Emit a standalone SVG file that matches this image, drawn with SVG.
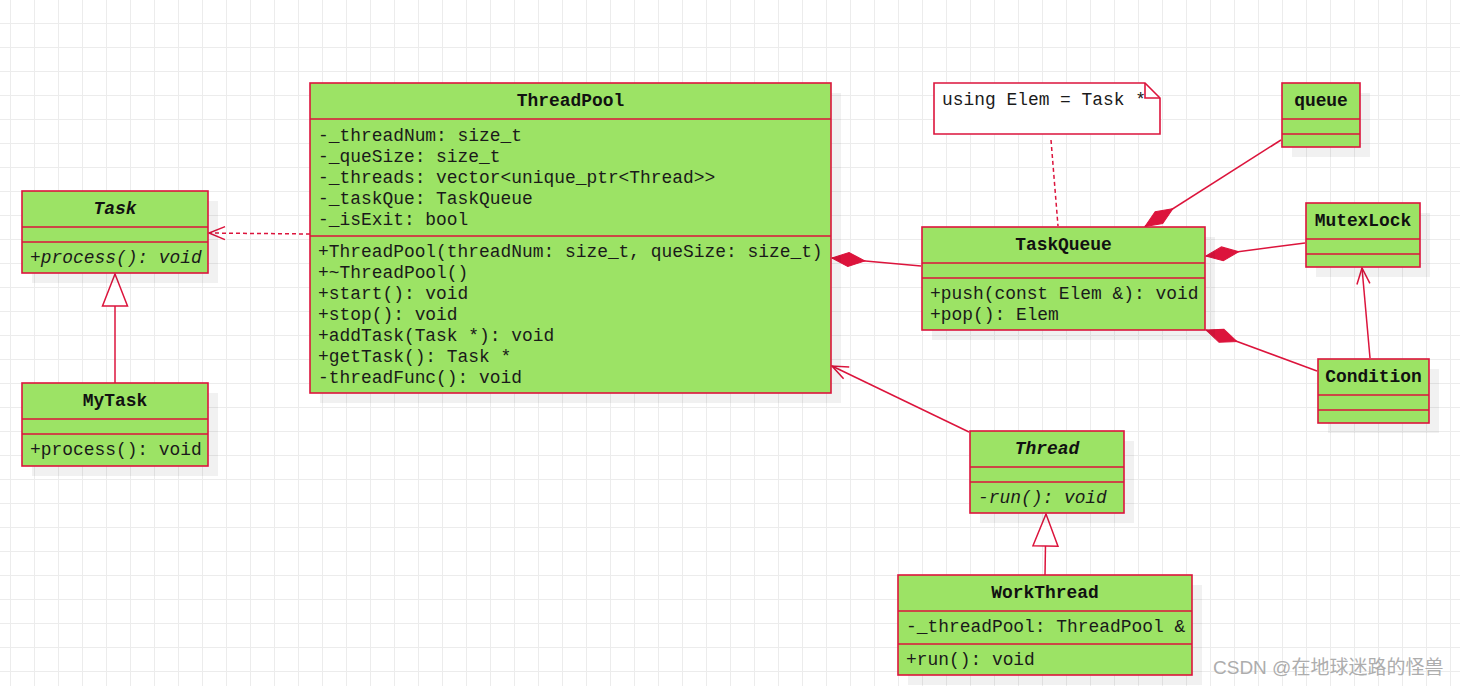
<svg xmlns="http://www.w3.org/2000/svg" width="1460" height="686" viewBox="0 0 1460 686">
<style>
.box{fill:#9ce365;stroke:#dc143c;stroke-width:1.6}
.sep{stroke:#dc143c;stroke-width:1.6;fill:none}
.shadow{fill:#000;fill-opacity:0.055}
.t{font-family:"Liberation Mono",monospace;font-size:17.9px;fill:#1a1a1a}
.title{font-family:"Liberation Mono",monospace;font-size:17.9px;font-weight:bold;fill:#111;text-anchor:middle}
.it{font-style:italic}
.ln{stroke:#dc143c;stroke-width:1.5;fill:none}
.dash{stroke-dasharray:4 3}
.note{fill:#fff;stroke:#dc143c;stroke-width:1.6}
.wm{font-family:"Liberation Sans","Noto Sans CJK SC",sans-serif;font-size:19px;fill:#adadad}
</style>
<defs>
<pattern id="grid" patternUnits="userSpaceOnUse" x="10" y="23" width="24" height="24">
<path d="M0.5,0 V24 M0,0.5 H24" stroke="#ececec" stroke-width="1" fill="none"/>
</pattern>
<marker id="diamond" markerUnits="userSpaceOnUse" refX="0" refY="0" markerWidth="40" markerHeight="20" orient="auto" overflow="visible">
<path d="M0,0 L16.5,-7 L33,0 L16.5,7 Z" fill="#dc143c" stroke="#dc143c" stroke-width="1"/>
</marker>
<marker id="open" markerUnits="userSpaceOnUse" refX="0" refY="0" markerWidth="20" markerHeight="20" orient="auto" overflow="visible">
<path d="M-16,-6.5 L0,0 L-16,6.5" fill="none" stroke="#dc143c" stroke-width="1.5"/>
</marker>
<marker id="tri" markerUnits="userSpaceOnUse" refX="0" refY="0" markerWidth="40" markerHeight="30" orient="auto" overflow="visible">
<path d="M0,0 L-32,-12.5 L-32,12.5 Z" fill="#fff" stroke="#dc143c" stroke-width="1.5"/>
</marker>
</defs>
<rect width="1460" height="686" fill="#fff"/>
<rect width="1460" height="686" fill="url(#grid)"/>

<g id="connectors">
<path class="ln dash" d="M310,234 L209,233" marker-end="url(#open)"/>
<path class="ln" d="M115,383 L115,274" marker-end="url(#tri)"/>
<path class="ln" d="M832,258 L921,266" marker-start="url(#diamond)"/>
<path class="ln dash" d="M1051,140 L1058,226"/>
<path class="ln" d="M1145,226.5 L1281,140" marker-start="url(#diamond)"/>
<path class="ln" d="M1206,256 L1305,243" marker-start="url(#diamond)"/>
<path class="ln" d="M1206,330 L1317,371" marker-start="url(#diamond)"/>
<path class="ln" d="M1370,358 L1362,268" marker-end="url(#open)"/>
<path class="ln" d="M969,432 L832,366" marker-end="url(#open)"/>
<path class="ln" d="M1045,575 L1046,514" marker-end="url(#tri)"/>
</g>

<g id="Task">
<rect class="shadow" x="32" y="201" width="186" height="82"/>
<rect class="box" x="22" y="191" width="186" height="82"/>
<path class="sep" d="M22,227 H208 M22,242 H208"/>
<text class="title it" x="115" y="214">Task</text>
<text class="t it" x="30" y="263">+process(): void</text>
</g>

<g id="MyTask">
<rect class="shadow" x="32" y="393" width="186" height="83"/>
<rect class="box" x="22" y="383" width="186" height="83"/>
<path class="sep" d="M22,419 H208 M22,434 H208"/>
<text class="title" x="115" y="406">MyTask</text>
<text class="t" x="30" y="455">+process(): void</text>
</g>

<g id="ThreadPool">
<rect class="shadow" x="320" y="93" width="521" height="310"/>
<rect class="box" x="310" y="83" width="521" height="310"/>
<path class="sep" d="M310,119 H831 M310,236 H831"/>
<text class="title" x="570.5" y="106">ThreadPool</text>
<text class="t" x="318" y="140.5">-_threadNum: size_t</text>
<text class="t" x="318" y="161.5">-_queSize: size_t</text>
<text class="t" x="318" y="182.5">-_threads: vector&lt;unique_ptr&lt;Thread&gt;&gt;</text>
<text class="t" x="318" y="203.5">-_taskQue: TaskQueue</text>
<text class="t" x="318" y="224.5">-_isExit: bool</text>
<text class="t" x="318" y="257">+ThreadPool(threadNum: size_t, queSize: size_t)</text>
<text class="t" x="318" y="278">+~ThreadPool()</text>
<text class="t" x="318" y="299">+start(): void</text>
<text class="t" x="318" y="320">+stop(): void</text>
<text class="t" x="318" y="341">+addTask(Task *): void</text>
<text class="t" x="318" y="362">+getTask(): Task *</text>
<text class="t" x="318" y="383">-threadFunc(): void</text>
</g>

<g id="Note">
<path class="note" d="M934,83 L1145,83 L1160,98 L1160,134 L934,134 Z"/>
<text class="t" x="942" y="105">using Elem = Task *</text>
<path class="sep" d="M1145,83 L1145,98 L1160,98"/>
</g>

<g id="TaskQueue">
<rect class="shadow" x="932" y="237" width="283" height="103"/>
<rect class="box" x="922" y="227" width="283" height="103"/>
<path class="sep" d="M922,263 H1205 M922,278 H1205"/>
<text class="title" x="1063.5" y="250">TaskQueue</text>
<text class="t" x="930" y="299">+push(const Elem &amp;): void</text>
<text class="t" x="930" y="320">+pop(): Elem</text>
</g>

<g id="queue">
<rect class="shadow" x="1292" y="93" width="78" height="64"/>
<rect class="box" x="1282" y="83" width="78" height="64"/>
<path class="sep" d="M1282,119 H1360 M1282,134 H1360"/>
<text class="title" x="1321" y="106">queue</text>
</g>

<g id="MutexLock">
<rect class="shadow" x="1316" y="213" width="114" height="64"/>
<rect class="box" x="1306" y="203" width="114" height="64"/>
<path class="sep" d="M1306,239 H1420 M1306,254 H1420"/>
<text class="title" x="1363" y="226">MutexLock</text>
</g>

<g id="Condition">
<rect class="shadow" x="1328" y="369" width="111" height="64"/>
<rect class="box" x="1318" y="359" width="111" height="64"/>
<path class="sep" d="M1318,395 H1429 M1318,410 H1429"/>
<text class="title" x="1373.5" y="382">Condition</text>
</g>

<g id="Thread">
<rect class="shadow" x="980" y="441" width="154" height="82"/>
<rect class="box" x="970" y="431" width="154" height="82"/>
<path class="sep" d="M970,467 H1124 M970,482 H1124"/>
<text class="title it" x="1047" y="454">Thread</text>
<text class="t it" x="978" y="503">-run(): void</text>
</g>

<g id="WorkThread">
<rect class="shadow" x="908" y="585" width="294" height="100"/>
<rect class="box" x="898" y="575" width="294" height="100"/>
<path class="sep" d="M898,611 H1192 M898,644 H1192"/>
<text class="title" x="1045" y="598">WorkThread</text>
<text class="t" x="906" y="632">-_threadPool: ThreadPool &amp;</text>
<text class="t" x="906" y="665">+run(): void</text>
</g>

<text class="wm" x="1213" y="674">CSDN @在地球迷路的怪兽</text>
</svg>
